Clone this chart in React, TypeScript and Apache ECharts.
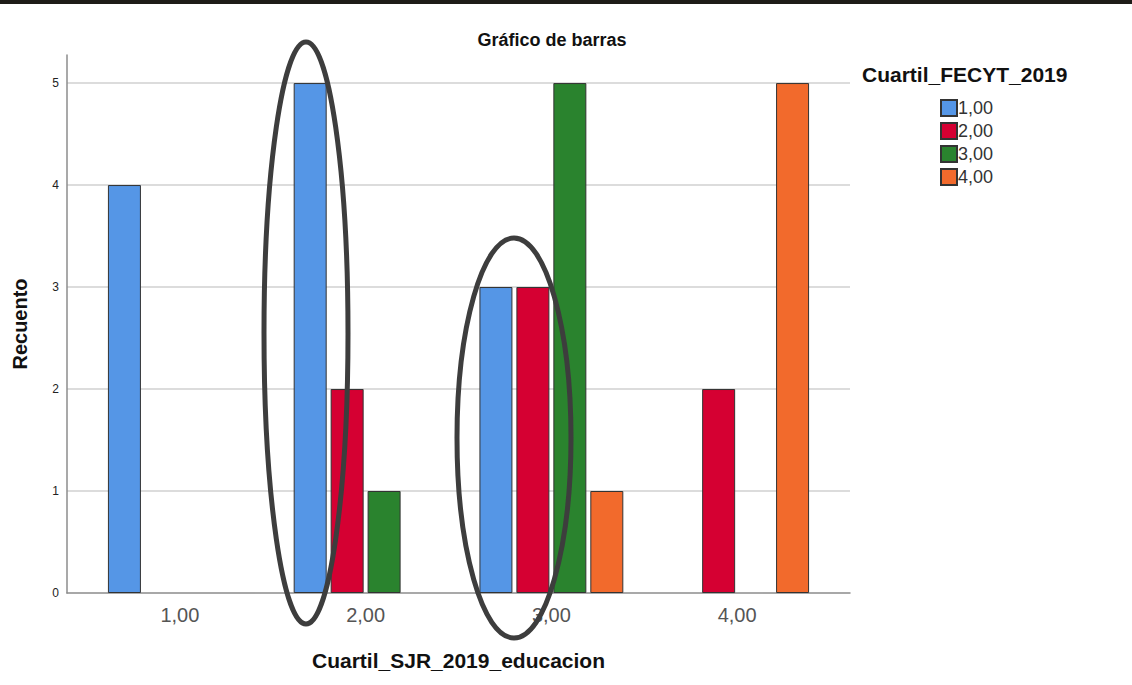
import React, { useEffect, useRef } from "react";
import * as echarts from "echarts";

const categories = ["1,00", "2,00", "3,00", "4,00"];
const seriesNames = ["1,00", "2,00", "3,00", "4,00"];
const s1 = [4, 5, 3, null];
const s2 = [null, 2, 3, 2];
const s3 = [null, 1, 5, null];
const s4 = [null, null, 1, 5];
const colors = ["#5596E6", "#D50032", "#2A832E", "#F26A2C"];

export default function App() {
  const ref = useRef<HTMLDivElement>(null);
  useEffect(() => {
    document.body.style.margin = "0";
    const chart = echarts.init(ref.current!, null, { renderer: "svg" });
    const yMax = 5.275;
    const data = [s1, s2, s3, s4];
    const font = "Liberation Sans, Arial";
    chart.setOption({
      animation: false,
      backgroundColor: "#ffffff",
      title: [
        {
          text: "Gráfico de barras",
          left: 552,
          top: 31,
          padding: 0,
          textAlign: "center",
          textStyle: { fontFamily: font, fontSize: 18, fontWeight: "bold", color: "#111" },
        },
        {
          text: "Cuartil_FECYT_2019",
          left: 862,
          top: 64,
          padding: 0,
          textStyle: { fontFamily: font, fontSize: 21, fontWeight: "bold", color: "#111" },
        },
      ],
      legend: {
        orient: "vertical",
        left: 940,
        top: 99,
        padding: 0,
        itemWidth: 16,
        itemHeight: 16,
        itemGap: 5,
        icon: "rect",
        data: seriesNames,
        textStyle: { fontFamily: font, fontSize: 18, color: "#333", padding: [0, 0, 0, -4] },
      },
      grid: [
        { left: 67, top: 55, width: 783, height: 538 },
        { left: 87, top: 55, width: 743, height: 538 },
      ],
      xAxis: [
        {
          gridIndex: 0,
          type: "value",
          min: 0,
          max: 1,
          axisLine: { show: true, lineStyle: { color: "#8c8c8c", width: 1.5 } },
          axisTick: { show: false },
          axisLabel: { show: false },
          splitLine: { show: false },
          name: "Cuartil_SJR_2019_educacion",
          nameLocation: "middle",
          nameGap: 57,
          nameTextStyle: { fontFamily: font, fontSize: 21, fontWeight: "bold", color: "#111" },
        },
        {
          gridIndex: 1,
          type: "category",
          data: categories,
          axisLine: { show: false },
          axisTick: { show: false },
          axisLabel: { fontFamily: font, fontSize: 20, color: "#555", margin: 12 },
        },
      ],
      yAxis: [
        {
          gridIndex: 0,
          type: "value",
          min: 0,
          max: yMax,
          interval: 1,
          axisLine: { show: true, lineStyle: { color: "#8c8c8c", width: 1.5 } },
          axisTick: { show: false },
          axisLabel: {
            showMaxLabel: false,
            fontFamily: font,
            fontSize: 12,
            color: "#222",
            margin: 8,
            formatter: (v: number) => (Number.isInteger(v) ? String(v) : ""),
          },
          splitLine: { show: true, showMinLine: false, showMaxLine: false, lineStyle: { color: "#d0d0d0", width: 1.5 } },
          name: "Recuento",
          nameLocation: "middle",
          nameGap: 37,
          nameTextStyle: { fontFamily: font, fontSize: 20, fontWeight: "bold", color: "#111" },
        },
        {
          gridIndex: 1,
          type: "value",
          min: 0,
          max: yMax,
          show: false,
          splitLine: { show: false },
        },
      ],
      series: data.map((d, i) => ({
        name: seriesNames[i],
        type: "bar",
        xAxisIndex: 1,
        yAxisIndex: 1,
        data: d,
        barWidth: 33,
        barGap: "12%",
        itemStyle: { color: colors[i], borderColor: "#333", borderWidth: 1 },
      })),
      graphic: [
        {
          type: "rect",
          shape: { x: 0, y: 0, width: 1132, height: 4 },
          style: { fill: "#1e1c18" },
          z: 100,
        },
        {
          type: "ellipse",
          shape: { cx: 306, cy: 333, rx: 42, ry: 291 },
          style: { fill: "none", stroke: "#3d3d3d", lineWidth: 5 },
          z: 100,
        },
        {
          type: "ellipse",
          shape: { cx: 514, cy: 438, rx: 57, ry: 200 },
          style: { fill: "none", stroke: "#3d3d3d", lineWidth: 5 },
          z: 100,
        },
      ],
    });
    return () => chart.dispose();
  }, []);
  return <div ref={ref} style={{ width: 1132, height: 685 }} />;
}
